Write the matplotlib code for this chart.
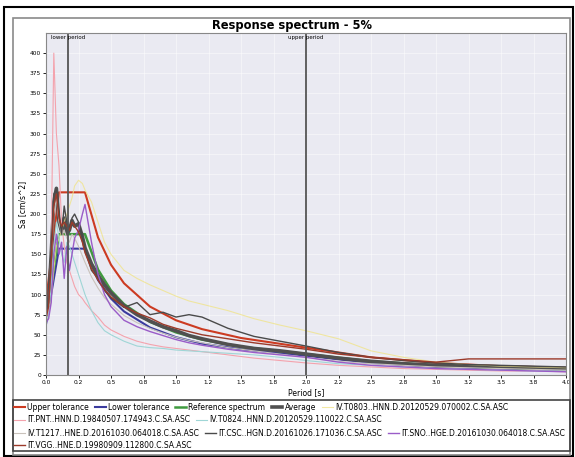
import matplotlib
matplotlib.use('Agg')
import matplotlib.pyplot as plt
from matplotlib.patches import Rectangle

plt.rcParams['font.family'] = ['DejaVu Sans']

# reference spectrum and tolerances (periods in s, Sa in cm/s^2)
t_ref = [0.0, 0.1, 0.3, 0.4, 0.5, 0.6, 0.8, 1.0, 1.2, 1.5, 2.0, 2.5, 3.0, 3.5, 4.0]
ref = [70, 175, 175, 131, 105, 88, 66, 53, 44, 35, 26, 17, 12, 9, 7]
upper = [91, 227, 227, 171, 137, 114, 85, 68, 57, 46, 34, 22, 15, 11, 9]
lower = [63, 157, 157, 118, 95, 79, 59, 47, 39, 32, 24, 15, 10, 8, 6]

# records
t_rec = [0.0, 0.02, 0.04, 0.06, 0.08, 0.1, 0.12, 0.14, 0.16, 0.18, 0.2, 0.22, 0.25,
         0.28, 0.3, 0.35, 0.4, 0.45, 0.5, 0.6, 0.7, 0.8, 0.9, 1.0, 1.1, 1.2, 1.4,
         1.6, 1.8, 2.0, 2.25, 2.5, 2.75, 3.0, 3.25, 3.5, 3.75, 4.0]
average = [72, 90, 150, 215, 232, 190, 178, 195, 175, 180, 192, 185, 188, 172, 158,
           138, 124, 112, 102, 86, 75, 67, 60, 55, 49, 45, 38, 33, 30, 26, 21, 17, 14,
           12, 11, 10, 9, 8]
t0803 = [65, 75, 95, 130, 160, 170, 180, 190, 200, 210, 220, 235, 242, 238, 230, 215,
         190, 165, 150, 130, 120, 112, 105, 98, 92, 88, 80, 70, 62, 55, 45, 30, 22, 16,
         13, 11, 10, 9]
pnt = [70, 80, 160, 400, 300, 260, 190, 160, 140, 130, 120, 110, 100, 95, 90, 80, 72,
       62, 56, 48, 42, 38, 35, 33, 31, 29, 25, 21, 18, 15, 12, 10, 8, 7, 6, 5, 5, 4]
t0824 = [68, 75, 110, 160, 190, 170, 150, 140, 165, 160, 150, 140, 125, 110, 100, 80,
         65, 55, 50, 42, 36, 34, 33, 31, 30, 29, 27, 25, 22, 18, 14, 12, 10, 8, 7, 6, 5, 5]
t1217 = [72, 85, 140, 200, 220, 190, 175, 180, 170, 165, 175, 170, 160, 148, 140, 122,
         108, 96, 88, 74, 65, 58, 52, 47, 43, 40, 34, 30, 26, 22, 17, 14, 12, 10, 9, 8, 7, 6]
csc = [75, 90, 160, 225, 230, 200, 175, 210, 190, 180, 195, 200, 190, 172, 155, 130,
       120, 105, 96, 84, 90, 75, 78, 72, 75, 72, 58, 48, 42, 36, 28, 22, 18, 15, 13, 12, 11, 10]
sno = [65, 70, 90, 150, 175, 150, 165, 120, 160, 130, 150, 170, 180, 200, 212, 165, 125,
       100, 85, 68, 60, 54, 49, 44, 40, 37, 32, 28, 25, 22, 16, 12, 10, 8, 7, 6, 5, 4]
vgg = [70, 85, 140, 210, 225, 195, 185, 190, 185, 180, 190, 185, 178, 165, 152, 132, 118,
       106, 97, 85, 77, 71, 63, 58, 54, 50, 45, 40, 36, 32, 26, 22, 19, 16, 20, 20, 20, 20]

lower_period = 0.17
upper_period = 2.0

fig = plt.figure(figsize=(5.75, 4.57), dpi=100)
W, H = 575.0, 457.0
ax = fig.add_axes([46 / W, 1 - 375 / H, 520 / W, 342 / H])
ax.set_facecolor('#eaeaf2')
ax.grid(True, color='white', lw=0.8, alpha=0.45)
ax.set_axisbelow(True)

h_up, = ax.plot(t_ref, upper, color='#cc3b22', lw=1.5, label='Upper tolerance')
h_lo, = ax.plot(t_ref, lower, color='#3b3b9e', lw=1.5, label='Lower tolerance')
h_ref, = ax.plot(t_ref, ref, color='#3f9a3f', lw=1.8, label='Reference spectrum')
h_avg, = ax.plot(t_rec, average, color='#505050', lw=2.6, label='Average')
h1, = ax.plot(t_rec, t0803, color='#f0e48c', lw=0.8, alpha=0.8, label='IV.T0803..HNN.D.20120529.070002.C.SA.ASC')
h2, = ax.plot(t_rec, pnt, color='#f4a3ad', lw=0.8, label='IT.PNT..HNN.D.19840507.174943.C.SA.ASC')
h3, = ax.plot(t_rec, t0824, color='#9fd6d6', lw=0.8, label='IV.T0824..HNN.D.20120529.110022.C.SA.ASC')
h4, = ax.plot(t_rec, t1217, color='#c9c2bb', lw=0.8, label='IV.T1217..HNE.D.20161030.064018.C.SA.ASC')
h5, = ax.plot(t_rec, csc, color='#4a4a4a', lw=1.0, label='IT.CSC..HGN.D.20161026.171036.C.SA.ASC')
h6, = ax.plot(t_rec, sno, color='#9a5cc8', lw=1.0, label='IT.SNO..HGE.D.20161030.064018.C.SA.ASC')
h7, = ax.plot(t_rec, vgg, color='#9c3a2a', lw=1.0, label='IT.VGG..HNE.D.19980909.112800.C.SA.ASC')

ax.axvline(lower_period, color='#555555', lw=1.3)
ax.axvline(upper_period, color='#555555', lw=1.3)
ax.text(lower_period, 423, 'lower period', fontsize=4, ha='center', va='top')
ax.text(upper_period, 423, 'upper period', fontsize=4, ha='center', va='top')

ax.set_xlim(0, 4.0)
ax.set_ylim(0, 425)
ax.set_xticks([i * 0.25 for i in range(17)])
ax.set_xticklabels(['%.1f' % (i * 0.25) for i in range(17)])
ax.set_yticks(range(0, 401, 25))
ax.tick_params(labelsize=4.2, length=2, width=0.6, pad=1.5)
ax.set_xlabel('Period [s]', fontsize=5.5, labelpad=2)
ax.set_ylabel('Sa [cm/s^2]', fontsize=5.5, labelpad=2)
for s in ax.spines.values():
    s.set_color('#888888')
    s.set_linewidth(0.8)

fig.text(292 / W, 1 - 26 / H, 'Response spectrum - 5%', fontsize=8.3,
         fontweight='bold', ha='center', va='center')

# legend, flowing rows
rows = [[h_up, h_lo, h_ref, h_avg, h1], [h2, h3], [h4, h5, h6], [h7]]
row_y = [407, 420, 433, 445]
for hs, yy in zip(rows, row_y):
    fig.legend(handles=hs, loc='center left', bbox_to_anchor=(14 / W, 1 - yy / H),
               ncol=len(hs), frameon=False, fontsize=5.5, handlelength=1.4,
               handletextpad=0.3, columnspacing=0.8, borderpad=0, borderaxespad=0)

# frames
fig.patches.append(Rectangle((4 / W, 1 - 456 / H), 569 / W, 449 / H, transform=fig.transFigure,
                             fill=False, ec='black', lw=1.5))
fig.patches.append(Rectangle((13 / W, 1 - 455 / H), 557 / W, 437 / H, transform=fig.transFigure,
                             fill=False, ec='#8a8a8a', lw=1.2))
fig.patches.append(Rectangle((13 / W, 1 - 451 / H), 557 / W, 51 / H, transform=fig.transFigure,
                             fill=False, ec='#444444', lw=1.2))

fig.savefig('out.png', dpi=100)
